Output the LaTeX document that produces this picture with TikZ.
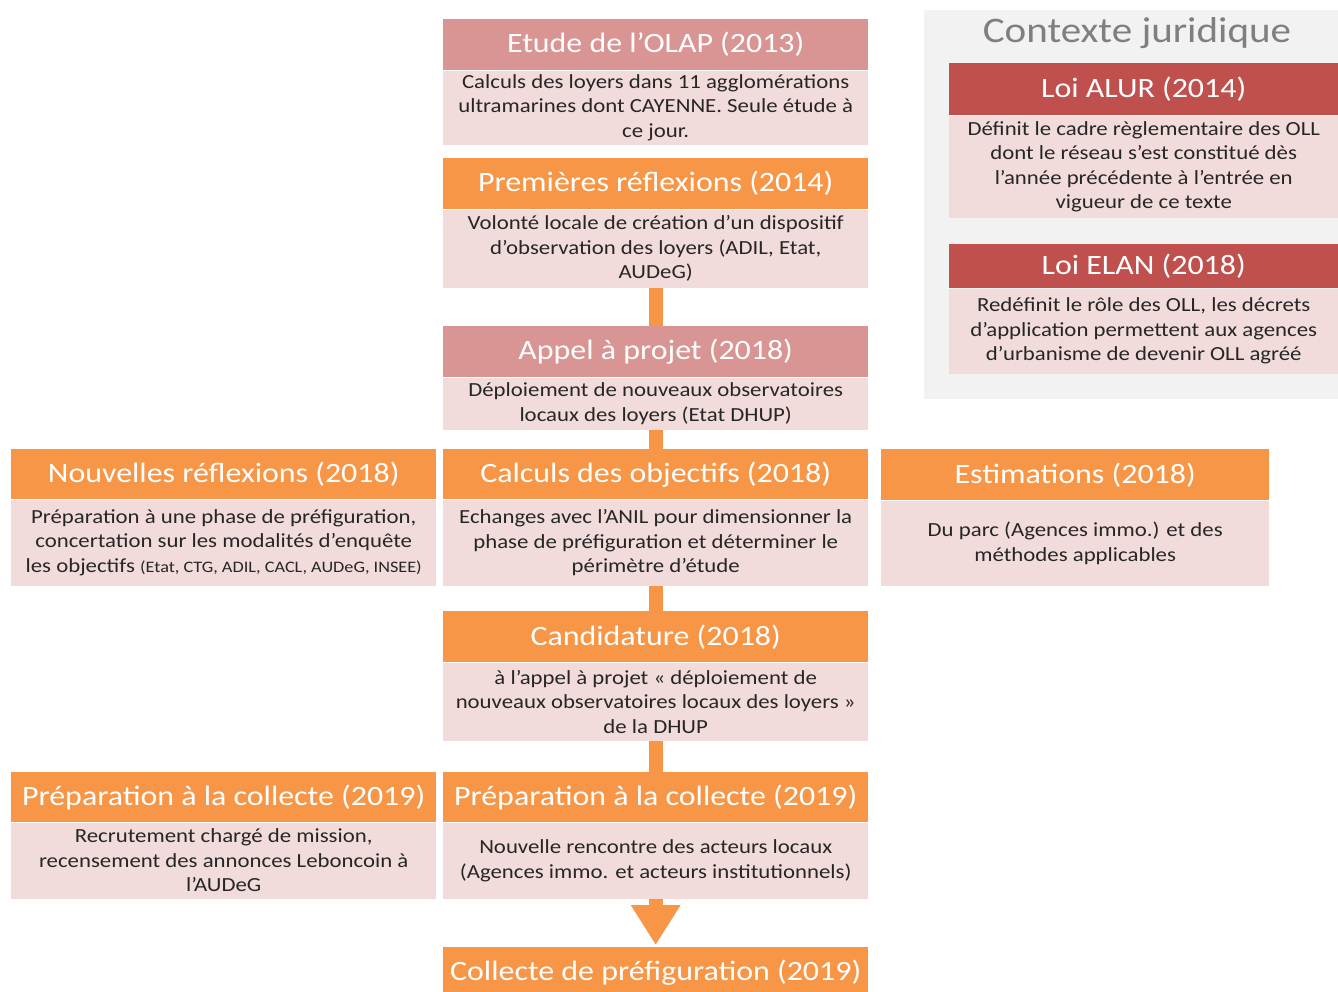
\documentclass[tikz,border=0pt]{standalone}
\usepackage{fontspec}
\setmainfont{Carlito}[FakeStretch=1.14]
\usetikzlibrary{positioning,arrows.meta}

\definecolor{rosehead}{HTML}{D99594}
\definecolor{orangehead}{HTML}{F79646}
\definecolor{redhead}{HTML}{C0504D}
\definecolor{bodypink}{HTML}{F2DCDB}
\definecolor{panelgrey}{HTML}{F2F2F2}
\definecolor{titlegrey}{HTML}{7F7F7F}

\begin{document}
\begin{tikzpicture}[x=1pt,y=-1pt,
    head/.style={fill=#1,text=white,font=\fontsize{28}{32}\selectfont,
      minimum width=425pt,minimum height=51pt,inner sep=0pt,anchor=north west},
    body/.style={fill=bodypink,text=black!85,font=\fontsize{20}{24.5}\selectfont,
      align=center,minimum width=425pt,inner sep=0pt},
    flow/.style={draw=orangehead,line width=14pt}
  ]
  \useasboundingbox (0,0) rectangle (1338,992);
  % contexte juridique
  \fill[panelgrey] (924,10) rectangle (1338,399);
  \node[text=titlegrey,font=\fontsize{36}{40}\selectfont] (ctx) at (1137,33) {Contexte juridique};
  \node[head=redhead,minimum width=389pt,minimum height=52pt] (alur) at (949,63) {Loi ALUR (2014)};
  \node[body,minimum width=389pt,minimum height=102pt,below=0pt of alur] (alurb)
    {Définit le cadre règlementaire des OLL\\dont le réseau s’est constitué dès\\l’année précédente à l’entrée en\\vigueur de ce texte};
  \node[head=redhead,minimum width=389pt,minimum height=44pt] (elan) at (949,244) {Loi ELAN (2018)};
  \node[body,minimum width=389pt,minimum height=85pt,below=0pt of elan] (elanb)
    {Redéfinit le rôle des OLL, les décrets\\d’application permettent aux agences\\d’urbanisme de devenir OLL agréé};

  % colonne centrale
  \node[head=rosehead] (olap) at (443,19) {Etude de l’OLAP (2013)};
  \node[body,minimum height=74pt,below=0pt of olap] (olapb)
    {Calculs des loyers dans 11 agglomérations\\ultramarines dont CAYENNE. Seule étude à\\ce jour.};
  \node[head=orangehead] (prem) at (443,158) {Premières réflexions (2014)};
  \node[body,minimum height=78pt,below=0pt of prem] (premb)
    {Volonté locale de création d’un dispositif\\d’observation des loyers (ADIL, Etat,\\AUDeG)};
  \node[head=rosehead] (appel) at (443,326) {Appel à projet (2018)};
  \node[body,minimum height=52pt,below=0pt of appel] (appelb)
    {Déploiement de nouveaux observatoires\\locaux des loyers (Etat DHUP)};
  \node[head=orangehead,minimum height=50pt] (calc) at (443,449) {Calculs des objectifs (2018)};
  \node[body,minimum height=86pt,below=0pt of calc] (calcb)
    {Echanges avec l’ANIL pour dimensionner la\\phase de préfiguration et déterminer le\\périmètre d’étude};
  \node[head=orangehead] (cand) at (443,611) {Candidature (2018)};
  \node[body,minimum height=78pt,below=0pt of cand] (candb)
    {à l’appel à projet « déploiement de\\nouveaux observatoires locaux des loyers »\\de la DHUP};
  \node[head=orangehead,minimum height=50pt] (prepm) at (443,772) {Préparation à la collecte (2019)};
  \node[body,minimum height=76pt,below=0pt of prepm] (prepmb)
    {Nouvelle rencontre des acteurs locaux\\(Agences immo. et acteurs institutionnels)};
  \node[head=orangehead] (coll) at (443,947) {Collecte de préfiguration (2019)};

  % colonnes laterales
  \node[head=orangehead,minimum height=50pt] (nouv) at (11,449) {Nouvelles réflexions (2018)};
  \node[body,minimum height=86pt,below=0pt of nouv] (nouvb)
    {Préparation à une phase de préfiguration,\\concertation sur les modalités d’enquête\\les objectifs {\fontsize{16}{20}\selectfont(Etat, CTG, ADIL, CACL, AUDeG, INSEE)}};
  \node[head=orangehead,minimum width=388pt] (estim) at (881,449) {Estimations (2018)};
  \node[body,minimum width=388pt,minimum height=85pt,below=0pt of estim] (estimb)
    {Du parc (Agences immo.) et des\\méthodes applicables};
  \node[head=orangehead,minimum height=50pt] (prepl) at (11,772) {Préparation à la collecte (2019)};
  \node[body,minimum height=76pt,below=0pt of prepl] (preplb)
    {Recrutement chargé de mission,\\recensement des annonces Leboncoin à\\l’AUDeG};

  % liaisons
  \draw[flow] (premb.south) -- (appel.north);
  \draw[flow] (appelb.south) -- (calc.north);
  \draw[flow] (calcb.south) -- (cand.north);
  \draw[flow] (candb.south) -- (prepm.north);
  \draw[flow,-{Triangle[length=40pt,width=47pt]}] (prepmb.south) -- ([yshift=2pt]coll.north);
\end{tikzpicture}
\end{document}
